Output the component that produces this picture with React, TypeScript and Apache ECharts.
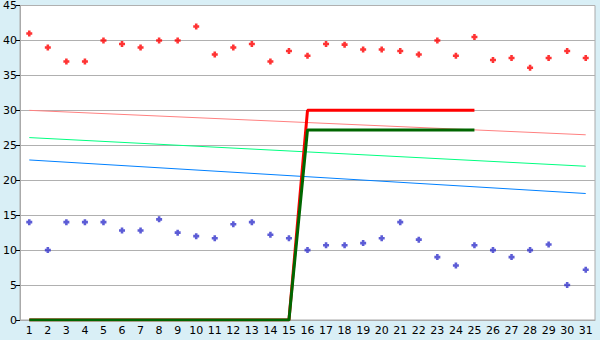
import React, { useEffect, useRef } from "react";
import * as echarts from "echarts";

const categories = Array.from({ length: 31 }, (_, i) => String(i + 1));

const redPoints = [41, 39, 37, 37, 40, 39.5, 39, 40, 40, 42, 38, 39, 39.5, 37, 38.5, 37.8, 39.5, 39.4, 38.7, 38.7, 38.5, 38, 40, 37.8, 40.5, 37.2, 37.5, 36.1, 37.5, 38.5, 37.5];
const bluePoints = [14, 10, 14, 14, 14, 12.8, 12.8, 14.4, 12.5, 12, 11.7, 13.7, 14, 12.2, 11.7, 10, 10.7, 10.7, 11, 11.7, 14, 11.5, 9, 7.8, 10.7, 10, 9, 10, 10.8, 5, 7.2];
const redStep = [0, 0, 0, 0, 0, 0, 0, 0, 0, 0, 0, 0, 0, 0, 0, 30, 30, 30, 30, 30, 30, 30, 30, 30, 30];
const greenStep = [0, 0, 0, 0, 0, 0, 0, 0, 0, 0, 0, 0, 0, 0, 0, 27.2, 27.2, 27.2, 27.2, 27.2, 27.2, 27.2, 27.2, 27.2, 27.2];
// trend lines: [start value at day 1, end value at day 31]
const pinkTrend = [30, 26.5];
const greenTrend = [26.1, 22.0];
const blueTrend = [22.9, 18.1];
const yTicks = { min: 0, max: 45, interval: 5 };

const marker = "path://M2,0H5V2H7V5H5V7H2V5H0V2H2Z";

export default function App() {
  const ref = useRef<HTMLDivElement>(null);
  useEffect(() => {
    document.body.style.margin = "0";
    const chart = echarts.init(ref.current!, null, { renderer: "svg" });
    const last = categories.length - 1;
    const trend = (vals: number[], color: string, name: string) => ({
      name,
      type: "line",
      data: [[0, vals[0]], [last, vals[1]]],
      symbol: "none",
      lineStyle: { color, width: 1 },
      z: 2,
    });
    chart.setOption({
      animation: false,
      backgroundColor: "#d9eff6",
      grid: {
        left: 20,
        top: 5,
        right: 5,
        bottom: 20,
        show: true,
        backgroundColor: "#ffffff",
        borderColor: "#aaaaaa",
        borderWidth: 1,
      },
      xAxis: {
        type: "category",
        data: categories,
        boundaryGap: true,
        axisLine: { lineStyle: { color: "#aaaaaa" } },
        axisTick: { alignWithLabel: true, length: 4, lineStyle: { color: "#000000" } },
        axisLabel: { color: "#000000", fontFamily: "DejaVu Sans", fontSize: 11, margin: 5, interval: 0 },
      },
      yAxis: {
        type: "value",
        min: yTicks.min,
        max: yTicks.max,
        interval: yTicks.interval,
        axisLine: { show: true, lineStyle: { color: "#aaaaaa" } },
        axisTick: { show: true, length: 4, lineStyle: { color: "#000000" } },
        axisLabel: { color: "#000000", fontFamily: "DejaVu Sans", fontSize: 11, margin: 3 },
        splitLine: { lineStyle: { color: "#b0b0b0" } },
      },
      series: [
        trend(pinkTrend, "#ff8080", "pink"),
        trend(greenTrend, "#00ff80", "green"),
        trend(blueTrend, "#0080ff", "blue"),
        {
          name: "redStep",
          type: "line",
          data: redStep,
          symbol: "none",
          lineStyle: { color: "#ff0000", width: 3 },
          z: 3,
        },
        {
          name: "greenStep",
          type: "line",
          data: greenStep,
          symbol: "none",
          lineStyle: { color: "#006600", width: 3 },
          z: 4,
        },
        {
          name: "red",
          type: "scatter",
          data: redPoints,
          symbol: marker,
          symbolSize: 6,
          itemStyle: { color: "#ff0000" },
          z: 5,
        },
        {
          name: "blue",
          type: "scatter",
          data: bluePoints,
          symbol: marker,
          symbolSize: 6,
          itemStyle: { color: "#3333cc" },
          z: 5,
        },
      ],
    });
    return () => chart.dispose();
  }, []);
  return <div ref={ref} style={{ position: "absolute", left: 0, top: 0, width: 600, height: 340 }} />;
}
